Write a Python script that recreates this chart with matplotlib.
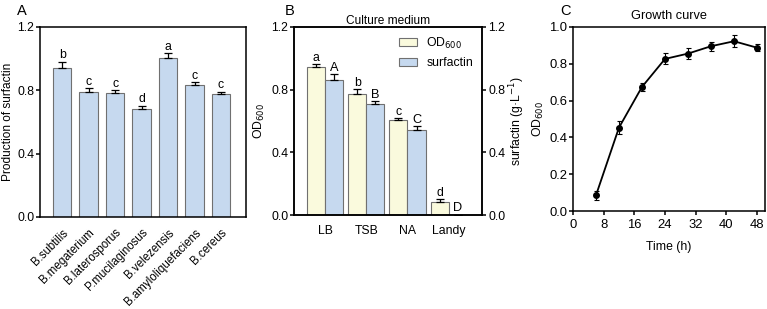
import numpy as np
import matplotlib.pyplot as plt

plt.rcParams["font.family"] = ["Liberation Sans", "DejaVu Sans"]
plt.rcParams["font.size"] = 8.8
plt.rcParams["axes.linewidth"] = 1.1
plt.rcParams["xtick.major.width"] = 1.1
plt.rcParams["ytick.major.width"] = 1.1
plt.rcParams["xtick.major.size"] = 3
plt.rcParams["ytick.major.size"] = 3
plt.rcParams["xtick.major.pad"] = 1.5
plt.rcParams["ytick.major.pad"] = 1

# panel A: strains
strains = ["B.subtilis", "B.megaterium", "B.laterosporus", "P.mucilaginosus",
           "B.velezensis", "B.amyloliquefaciens", "B.cereus"]
strain_prod = [0.942, 0.788, 0.782, 0.680, 1.001, 0.830, 0.775]
strain_err = [0.038, 0.025, 0.017, 0.021, 0.034, 0.019, 0.015]
strain_sig = ["b", "c", "c", "d", "a", "c", "c"]

# panel B: culture media
media = ["LB", "TSB", "NA", "Landy"]
od600 = [0.944, 0.769, 0.607, 0.081]
od600_err = [0.019, 0.035, 0.011, 0.023]
od600_sig = ["a", "b", "c", "d"]
surfactin = [0.861, 0.710, 0.541, 0.0]
surfactin_err = [0.041, 0.019, 0.024, 0.0]
surfactin_sig = ["A", "B", "C", "D"]

# panel C: growth curve
time_h = [6, 12, 18, 24, 30, 36, 42, 48]
growth_od = [0.085, 0.453, 0.674, 0.826, 0.855, 0.895, 0.922, 0.887]
growth_err = [0.025, 0.037, 0.02, 0.03, 0.032, 0.025, 0.032, 0.02]

blue = "#c6d9ef"
yellow = "#fafadd"
edge = "#707070"
ekw = dict(elinewidth=0.9, capthick=0.9, ecolor="black")

fig = plt.figure(figsize=(7.67, 3.09), dpi=100)

# ---- A
axA = fig.add_axes([0.052, 0.298, 0.269, 0.615])
x = np.arange(len(strains))
axA.bar(x, strain_prod, width=0.7, color=blue, edgecolor=edge, linewidth=0.8,
        yerr=[np.zeros(len(strain_err)), strain_err], capsize=2.6, error_kw=ekw)
for xi, v, e, s in zip(x, strain_prod, strain_err, strain_sig):
    axA.text(xi, v + e + 0.003, s, ha="center", va="bottom", fontsize=8.8)
axA.set_xlim(-0.84, 6.95)
axA.set_ylim(0, 1.2)
axA.set_yticks([0.0, 0.4, 0.8, 1.2])
axA.set_xticks(x)
axA.set_xticklabels(strains, rotation=45, ha="right", rotation_mode="anchor",
                    fontsize=8.3)
axA.tick_params(axis="x", length=0, pad=7)
axA.set_ylabel("Production of surfactin", fontsize=8.6, labelpad=2)
fig.text(0.022, 0.942, "A", fontsize=10.5, ha="left", va="bottom")

# ---- B
axB = fig.add_axes([0.383, 0.304, 0.245, 0.609])
xm = np.arange(len(media))
w = 0.44
axB.bar(xm - w / 2, od600, width=w, color=yellow, edgecolor=edge, linewidth=0.8,
        yerr=[np.zeros(len(od600_err)), od600_err], capsize=2.6, error_kw=ekw,
        label="OD$_{600}$")
axB.bar(xm + w / 2, surfactin, width=w, color=blue, edgecolor=edge, linewidth=0.8,
        yerr=[np.zeros(len(surfactin_err)), surfactin_err], capsize=2.6, error_kw=ekw,
        label="surfactin")
for xi, v, e, s in zip(xm, od600, od600_err, od600_sig):
    axB.text(xi - w / 2, v + e, s, ha="center", va="bottom", fontsize=8.8)
for xi, v, e, s in zip(xm, surfactin, surfactin_err, surfactin_sig):
    if v > 0:
        axB.text(xi + w / 2, v + e, s, ha="center", va="bottom", fontsize=9.2)
    else:
        axB.text(xi + w / 2, 0.005, s, ha="center", va="bottom", fontsize=9.2)
axB.set_xlim(-0.76, 3.8)
axB.set_ylim(0, 1.2)
axB.set_yticks([0.0, 0.4, 0.8, 1.2])
axB.set_xticks(xm)
axB.set_xticklabels(media)
axB.tick_params(axis="x", length=0, pad=7)
axB.set_ylabel("OD$_{600}$", labelpad=3)
axB.set_title("Culture medium", fontsize=8.6, pad=2)
axB2 = axB.twinx()
axB2.set_ylim(0, 1.2)
axB2.set_yticks([0.0, 0.4, 0.8, 1.2])
axB2.tick_params(axis="y", pad=2)
axB2.set_ylabel("surfactin (g·L$^{-1}$)", labelpad=1)
axB.legend(loc="upper right", frameon=False, fontsize=8.8, handlelength=1.4,
           handleheight=0.6, borderaxespad=0.3, labelspacing=0.55)
fig.text(0.371, 0.942, "B", fontsize=10.5, ha="left", va="bottom")

# ---- C
axC = fig.add_axes([0.747, 0.317, 0.25, 0.596])
axC.errorbar(time_h, growth_od, yerr=growth_err, color="black", marker="o",
             markersize=4, linewidth=1.3, capsize=1.8, elinewidth=0.8, capthick=0.8)
axC.set_xlim(0, 50)
axC.set_ylim(0, 1.0)
axC.set_xticks([0, 8, 16, 24, 32, 40, 48])
axC.set_yticks([0.0, 0.2, 0.4, 0.6, 0.8, 1.0])
axC.tick_params(axis="both", labelsize=9.4)
axC.tick_params(axis="x", pad=3)
axC.set_xlabel("Time (h)", labelpad=7)
axC.set_ylabel("OD$_{600}$", labelpad=2)
axC.set_title("Growth curve", fontsize=9.2, pad=6)
fig.text(0.730, 0.942, "C", fontsize=10.5, ha="left", va="bottom")

fig.savefig("out.png", dpi=100)
